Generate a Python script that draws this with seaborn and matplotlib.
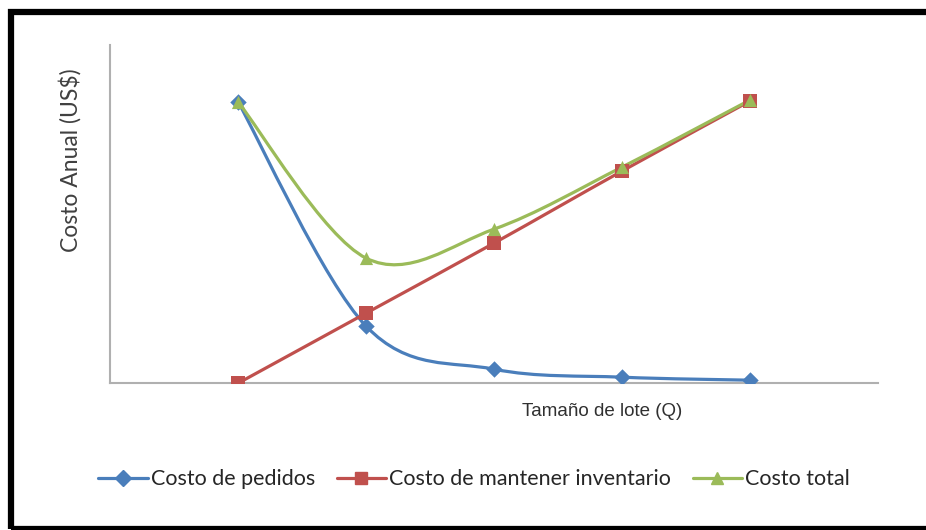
import numpy as np
import pandas as pd
import matplotlib
matplotlib.use("Agg")
import matplotlib.pyplot as plt
from matplotlib.path import Path
from matplotlib.patches import PathPatch, Rectangle
from matplotlib.lines import Line2D
import seaborn as sns

# datos (unidades arbitrarias, el eje Y no tiene escala)
lotes = [0, 1, 2, 3, 4]
costo_pedidos = [281, 57, 14, 6, 3]
costo_mantener = [0, 70, 140, 212, 282]
costo_total = [281, 125, 154, 216, 283]

series = ["Costo de pedidos", "Costo de mantener inventario", "Costo total"]
colores = ["#4A7EBB", "#C0504D", "#9BBB59"]
marcadores = ["D", "s", "^"]
tam_marc = [70, 95, 90]

sns.set_style("white")
plt.rcParams["font.family"] = ["Lato", "DejaVu Sans"]

df = pd.DataFrame({
    "Q": lotes * 3,
    "costo": costo_pedidos + costo_mantener + costo_total,
    "serie": [s for s in series for _ in lotes],
})


def curva_suave(xs, ys):
    # linea suavizada estilo Excel (Catmull-Rom pasada a Bezier)
    pts = np.column_stack([xs, ys]).astype(float)
    n = len(pts)
    verts = [pts[0]]
    codes = [Path.MOVETO]
    for i in range(n - 1):
        p_prev = pts[i - 1] if i > 0 else pts[i]
        p_next2 = pts[i + 2] if i + 2 < n else pts[i + 1]
        c1 = pts[i] + (pts[i + 1] - p_prev) / 6
        c2 = pts[i + 1] - (p_next2 - pts[i]) / 6
        verts += [c1, c2, pts[i + 1]]
        codes += [Path.CURVE4] * 3
    return Path(verts, codes)


fig = plt.figure(figsize=(9.26, 5.30), dpi=100)
ax = fig.add_axes([0.119, 0.277, 0.829, 0.638])

for serie, color, mk, s in zip(series, colores, marcadores, tam_marc):
    sub = df[df["serie"] == serie]
    ax.add_patch(PathPatch(curva_suave(sub["Q"], sub["costo"]), fill=False,
                           edgecolor=color, lw=2.3, capstyle="round", zorder=2))
    sns.scatterplot(data=sub, x="Q", y="costo", marker=mk, color=color, s=s,
                    edgecolor=color, linewidth=0, ax=ax, zorder=3, legend=False)

ax.set_xlim(-1, 5)
ax.set_ylim(0, 338)
ax.set_xticks([])
ax.set_yticks([])
ax.set_xlabel("")
ax.set_ylabel("")
sns.despine(ax=ax)
for lado in ["left", "bottom"]:
    ax.spines[lado].set_color("#B0B0B0")
    ax.spines[lado].set_linewidth(1.5)

fig.text(0.650, 0.224, "Tamaño de lote (Q)", ha="center", va="center",
         fontsize=13.5, family="Liberation Sans", color="#303030")
fig.text(0.076, 0.698, "Costo Anual (US$)", rotation=90, ha="center", va="center",
         fontsize=16.5, color="#404040")

handles = [Line2D([], [], color=c, lw=2.3, marker=m, markersize=8)
           for c, m in zip(colores, marcadores)]
fig.legend(handles, series, loc="center", bbox_to_anchor=(0.512, 0.096), ncol=3,
           frameon=False, fontsize=15.5, handlelength=2.3, handletextpad=0.15,
           columnspacing=1.0, labelcolor="#262626")

# marco negro alrededor de la figura
fig.patches.append(Rectangle((0.012, 0.001), 1.05, 0.976, transform=fig.transFigure,
                             fill=False, edgecolor="black", lw=4.5))

fig.savefig("out.png", dpi=100)
